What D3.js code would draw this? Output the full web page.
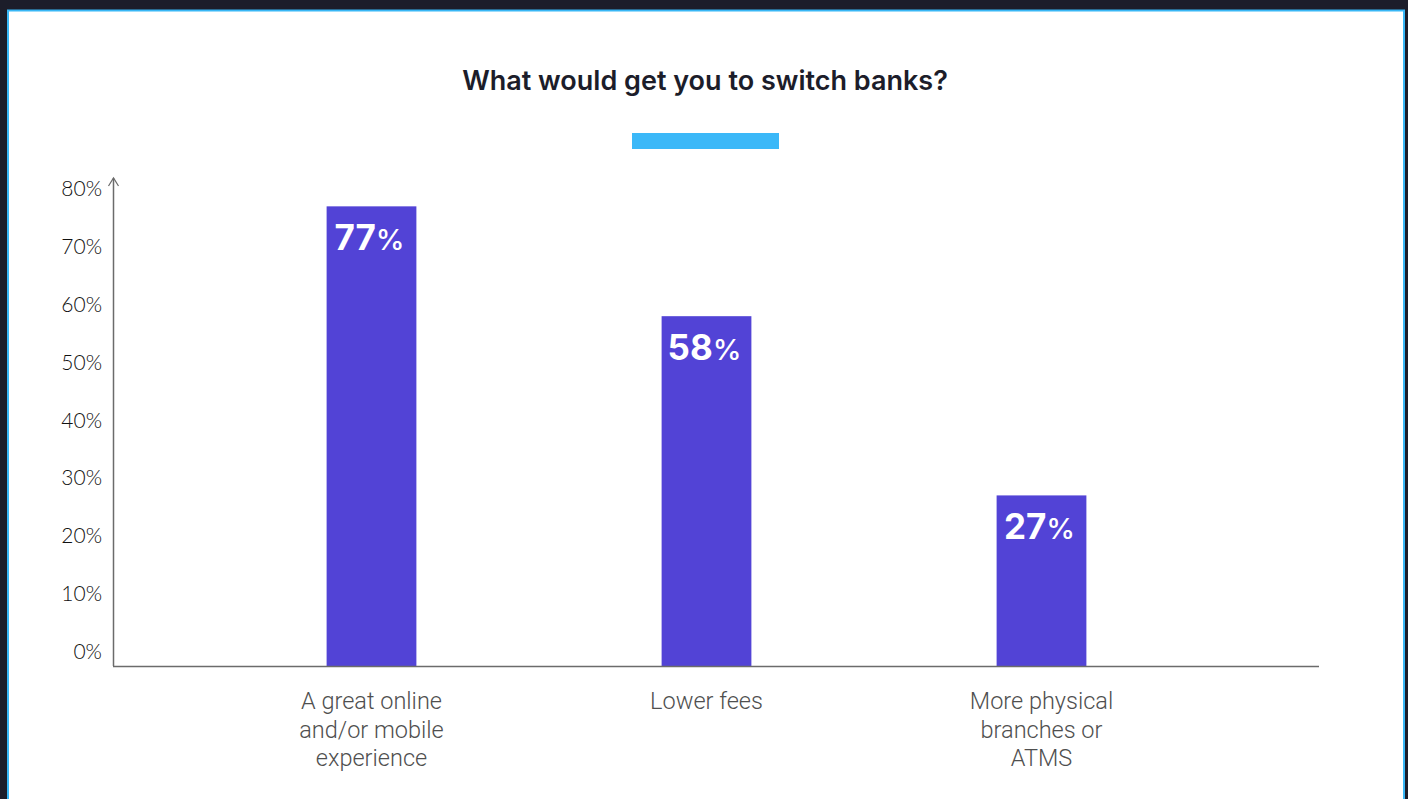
<!DOCTYPE html>
<html>
<head>
<meta charset="utf-8">
<script src="https://cdn.jsdelivr.net/npm/d3@7"></script>
<style>
  html, body { margin: 0; padding: 0; background: #1c1d2a; }
  svg { display: block; }
</style>
</head>
<body>
<svg id="chart" width="1408" height="799"></svg>
<script>
const categories = [
  ["A great online", "and/or mobile", "experience"],
  ["Lower fees"],
  ["More physical", "branches or", "ATMS"]
];
const categoryKeys = ["online", "fees", "branches"];
const values = [77, 58, 27];
const tickValues = [0, 10, 20, 30, 40, 50, 60, 70, 80];
const title = "What would get you to switch banks?";

const svg = d3.select("#chart");

// panel
svg.append("rect")
  .attr("x", 8).attr("y", 10.5)
  .attr("width", 1396).attr("height", 800)
  .attr("fill", "#ffffff")
  .attr("stroke", "#39b7f6").attr("stroke-width", 2);

// title
svg.append("text")
  .attr("x", 705).attr("y", 90)
  .attr("text-anchor", "middle")
  .attr("font-family", "Inter, 'Noto Sans', sans-serif")
  .attr("font-weight", 600)
  .attr("font-size", 27)
  .attr("fill", "#1c1d2a")
  .text(title);

// legend swatch
svg.append("rect")
  .attr("x", 632).attr("y", 133)
  .attr("width", 147).attr("height", 16)
  .attr("fill", "#3bb8f8");

const baseY = 666;
const y = d3.scaleLinear().domain([0, 80]).range([651.5, 189]);
const x = d3.scaleBand().domain(categoryKeys).range([204, 1209]).paddingInner(0.732).paddingOuter(0.366);

// y tick labels
svg.append("g").selectAll("text")
  .data(tickValues).join("text")
  .attr("x", 102)
  .attr("y", d => y(d))
  .attr("dy", "0.35em")
  .attr("text-anchor", "end")
  .attr("font-family", "Lato, 'Noto Sans', sans-serif")
  .attr("font-weight", 300)
  .attr("font-size", 21)
  .attr("fill", "#111111")
  .text(d => d + "%");

// bars (extend down to the axis line)
svg.append("g").selectAll("rect")
  .data(values).join("rect")
  .attr("x", (d, i) => x(categoryKeys[i]))
  .attr("y", d => y(d))
  .attr("width", x.bandwidth())
  .attr("height", d => baseY - y(d))
  .attr("fill", "#5243d6");

// value labels
const vl = svg.append("g").selectAll("text")
  .data(values).join("text")
  .attr("x", (d, i) => x(categoryKeys[i]) + x.bandwidth() / 2 - 2)
  .attr("y", d => y(d) + 44)
  .attr("text-anchor", "middle")
  .attr("fill", "#ffffff")
  .attr("font-family", "Inter, 'Noto Sans', sans-serif");
vl.append("tspan").attr("font-size", 35).attr("font-weight", 700).text(d => d);
vl.append("tspan").attr("font-size", 29).attr("font-weight", 500).text("%");

// axes
const axisColor = "#6b6b6b";
svg.append("line")
  .attr("x1", 113.5).attr("x2", 113.5)
  .attr("y1", baseY).attr("y2", 178)
  .attr("stroke", axisColor).attr("stroke-width", 1.5);
svg.append("path")
  .attr("d", "M108.5,186 L113.5,178 L118.5,186")
  .attr("fill", "none")
  .attr("stroke", axisColor).attr("stroke-width", 1.2);
svg.append("line")
  .attr("x1", 113).attr("x2", 1319)
  .attr("y1", baseY + 0.5).attr("y2", baseY + 0.5)
  .attr("stroke", axisColor).attr("stroke-width", 1.5);

// category labels
const cl = svg.append("g").selectAll("text")
  .data(categories).join("text")
  .attr("text-anchor", "middle")
  .attr("font-family", "Roboto, 'Noto Sans', sans-serif")
  .attr("font-weight", 300)
  .attr("font-size", 23.5)
  .attr("fill", "#4f4f4f")
  .attr("transform", (d, i) => `translate(${x(categoryKeys[i]) + x.bandwidth() / 2},709)`);
cl.selectAll("tspan")
  .data(d => d).join("tspan")
  .attr("x", 0)
  .attr("y", (d, j) => j * 28.5)
  .text(d => d);
</script>
</body>
</html>
